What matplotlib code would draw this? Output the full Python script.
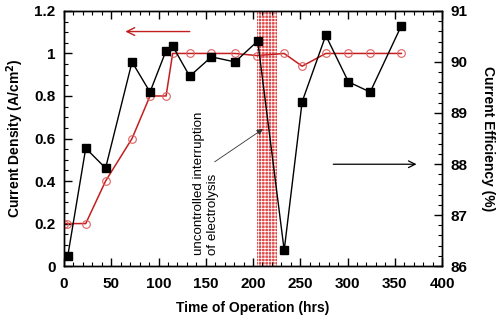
import matplotlib
matplotlib.use("Agg")
import matplotlib.pyplot as plt
from matplotlib.ticker import MultipleLocator

plt.rcParams["font.family"] = ["Liberation Sans", "DejaVu Sans"]
plt.rcParams["hatch.linewidth"] = 0.6

# ── Data ─────────────────────────────────────────────────────
# current density (left axis), red open circles
cd_time = [0, 3, 23, 44, 72, 91, 108, 115, 133, 156, 181, 204, 233, 252, 277, 301, 324, 357]
cd_vals = [0.2, 0.2, 0.2, 0.4, 0.6, 0.8, 0.8, 1.0, 1.0, 1.0, 1.0, 0.99, 1.0, 0.94, 1.0, 1.0, 1.0, 1.0]

# current efficiency (right axis), black squares
ce_time = [4, 23, 44, 72, 91, 108, 115, 133, 156, 181, 205, 233, 252, 277, 301, 324, 357]
ce_vals = [86.2, 88.31, 87.92, 90.0, 89.41, 90.22, 90.31, 89.72, 90.10, 90.0, 90.41,
           86.31, 89.22, 90.52, 89.61, 89.41, 90.71]

interrupt_start, interrupt_end = 204.5, 225.5

RED = "#c41e1e"

fig = plt.figure(figsize=(5.0, 3.21), dpi=100)
ax = fig.add_axes([0.128, 0.171, 0.756, 0.795])
ax2 = ax.twinx()

ax.axvspan(interrupt_start, interrupt_end, facecolor="#e04848", edgecolor="white",
           hatch="+++++", linewidth=0, zorder=0)

ax.plot(cd_time, cd_vals, "-o", color=RED, mfc="none", mec="#e06060",
        markersize=5.5, linewidth=1.1, markeredgewidth=0.8, zorder=3)
ax2.plot(ce_time, ce_vals, "-s", color="black", markersize=6, linewidth=1.0, zorder=3)

ax.set_xlim(0, 400)
ax.set_ylim(0, 1.2)
ax2.set_ylim(86, 91)

ax.xaxis.set_major_locator(MultipleLocator(50))
ax.xaxis.set_minor_locator(MultipleLocator(10))
ax.yaxis.set_major_locator(MultipleLocator(0.2))
ax.yaxis.set_minor_locator(MultipleLocator(0.05))
ax2.yaxis.set_major_locator(MultipleLocator(1))
ax2.yaxis.set_minor_locator(MultipleLocator(0.2))
ax.set_yticks([0, 0.2, 0.4, 0.6, 0.8, 1.0, 1.2], ["0", "0.2", "0.4", "0.6", "0.8", "1", "1.2"])

ax.tick_params(axis="both", which="both", direction="in", top=True, labelsize=11)
ax.tick_params(axis="y", which="both", right=False)
ax.tick_params(which="major", length=6, width=1)
ax.tick_params(which="minor", length=3, width=0.8)
ax2.tick_params(which="both", direction="in", labelsize=11)
ax2.tick_params(which="major", length=6, width=1)
ax2.tick_params(which="minor", length=3, width=0.8)
for a in (ax, ax2):
    for lab in a.get_xticklabels() + a.get_yticklabels():
        lab.set_fontweight("bold")
    for sp in a.spines.values():
        sp.set_linewidth(1.0)
ax.tick_params(axis="x", pad=8)
ax.tick_params(axis="y", pad=6)
ax2.tick_params(axis="y", pad=6)

ax.set_xlabel("Time of Operation (hrs)", fontsize=10, fontweight="bold", labelpad=7)
ax.set_ylabel("Current Density (A/cm$^\\mathbf{2}$)", fontsize=10, fontweight="bold", labelpad=6)
ax2.set_ylabel("Current Efficiency (%)", fontsize=10, fontweight="bold", rotation=270, labelpad=20)

# direction arrows
ax.annotate("", xy=(62, 1.103), xytext=(136, 1.103),
            arrowprops=dict(arrowstyle="->", color=RED, lw=1.0, mutation_scale=14))
ax.annotate("", xy=(376, 0.479), xytext=(282, 0.479),
            arrowprops=dict(arrowstyle="->", color="black", lw=0.9, mutation_scale=12))

ax.text(150, 0.05, "uncontrolled interruption\nof electrolysis", rotation=90,
        ha="center", va="bottom", fontsize=9.6, multialignment="left")
ax.annotate("", xy=(213, 0.652), xytext=(157, 0.483),
            arrowprops=dict(arrowstyle="-|>", color="#333333", lw=0.6, mutation_scale=9))

fig.savefig("out.png", dpi=100)
